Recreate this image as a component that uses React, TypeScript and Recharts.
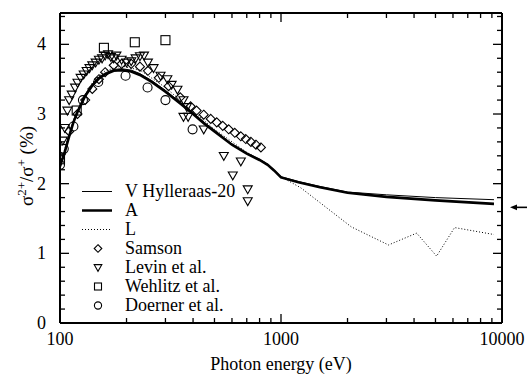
import React from 'react';
import { ComposedChart, Line, Scatter, XAxis, YAxis, Legend, ReferenceDot } from 'recharts';

// theory curves (photon energy in eV, ratio in %)
const energyA = [100, 105, 110, 115, 120, 130, 140, 150, 160, 175, 190, 210, 230, 260, 300, 350, 400, 450, 500, 600, 700, 800, 870, 930, 1000, 1200, 1500, 2000, 3000, 5000, 9200];
const valueA = [2.25, 2.45, 2.68, 2.88, 3.03, 3.26, 3.41, 3.51, 3.57, 3.62, 3.63, 3.61, 3.56, 3.46, 3.32, 3.15, 3.0, 2.86, 2.75, 2.56, 2.43, 2.34, 2.27, 2.19, 2.09, 2.02, 1.95, 1.87, 1.81, 1.76, 1.71];

const energyV = [100, 105, 110, 115, 120, 130, 140, 150, 160, 175, 190, 210, 230, 260, 300, 350, 400, 450, 500, 600, 700, 800, 870, 930, 1000, 1200, 1500, 2000, 3000, 5000, 9200];
const valueV = [2.27, 2.47, 2.7, 2.9, 3.05, 3.28, 3.43, 3.53, 3.59, 3.64, 3.65, 3.63, 3.58, 3.48, 3.34, 3.17, 3.02, 2.88, 2.77, 2.57, 2.44, 2.35, 2.28, 2.2, 2.1, 2.03, 1.96, 1.88, 1.84, 1.8, 1.77];

const energyL = [100, 110, 120, 140, 160, 190, 230, 300, 400, 500, 700, 870, 1000, 1230, 2080, 3065, 4110, 5060, 6100, 9200];
const valueL = [2.27, 2.72, 3.07, 3.45, 3.62, 3.69, 3.63, 3.38, 3.04, 2.78, 2.45, 2.28, 2.1, 1.94, 1.38, 1.12, 1.29, 0.96, 1.37, 1.27];

// experiments
const samsonE = [110, 120, 130, 140, 150, 160, 175, 190, 210, 230, 250, 280, 310, 350, 390, 415, 447, 481, 512, 545, 580, 618, 658, 693, 731, 770, 811];
const samsonY = [2.75, 3.0, 3.2, 3.36, 3.5, 3.6, 3.7, 3.72, 3.72, 3.68, 3.62, 3.52, 3.4, 3.24, 3.11, 3.05, 2.99, 2.93, 2.88, 2.83, 2.78, 2.73, 2.68, 2.64, 2.6, 2.56, 2.52];

const levinE = [101, 103, 105, 108, 110, 113, 117, 120, 124, 128, 132, 136, 140, 145, 150, 155, 160, 165, 170, 175, 180, 190, 200, 210, 220, 230, 240, 250, 265, 285, 306, 320, 340, 362, 375, 362, 380, 447, 551, 658, 605, 707, 707];
const levinY = [2.38, 2.62, 2.8, 3.05, 3.2, 3.28, 3.38, 3.45, 3.52, 3.57, 3.62, 3.66, 3.7, 3.74, 3.78, 3.8, 3.84, 3.86, 3.82, 3.8, 3.84, 3.78, 3.74, 3.76, 3.8, 3.83, 3.84, 3.74, 3.66, 3.55, 3.5, 3.42, 3.35, 3.2, 3.1, 2.96, 2.96, 2.78, 2.4, 2.32, 2.12, 1.92, 1.75];

const wehlitzE = [100, 119, 158, 218, 300];
const wehlitzY = [2.35, 3.05, 3.95, 4.03, 4.06];

const doernerE = [100, 104, 115, 127, 149, 198, 249, 300, 398];
const doernerY = [2.27, 2.5, 2.82, 3.2, 3.46, 3.55, 3.38, 3.2, 2.78];

const xTicks = [100, 200, 300, 400, 500, 600, 700, 800, 900, 1000, 2000, 3000, 4000, 5000, 6000, 7000, 8000, 9000, 10000];
const xMajor = [100, 1000, 10000];
const yTicks = [0, 0.2, 0.4, 0.6, 0.8, 1, 1.2, 1.4, 1.6, 1.8, 2, 2.2, 2.4, 2.6, 2.8, 3, 3.2, 3.4, 3.6, 3.8, 4, 4.2, 4.4];
const yMajor = [0, 1, 2, 3, 4];

const zip = (xs: number[], ys: number[]) => xs.map((x, i) => ({ x, y: ys[i] }));

const FONT = '"Liberation Serif", "Times New Roman", serif';

const Diamond = ({ cx, cy, s = 4.5 }: any) => (
  <path d={`M${cx},${cy - s}L${cx + s},${cy}L${cx},${cy + s}L${cx - s},${cy}Z`} fill="none" stroke="#000" strokeWidth={1.1} />
);
const TriDown = ({ cx, cy, s = 4.5 }: any) => (
  <path d={`M${cx - s},${cy - s * 0.75}L${cx + s},${cy - s * 0.75}L${cx},${cy + s}Z`} fill="none" stroke="#000" strokeWidth={1.1} />
);
const Square = ({ cx, cy, s = 4.5 }: any) => (
  <rect x={cx - s} y={cy - s} width={s * 2} height={s * 2} fill="none" stroke="#000" strokeWidth={1.1} />
);
const Circle = ({ cx, cy, s = 4.5 }: any) => (
  <circle cx={cx} cy={cy} r={s} fill="none" stroke="#000" strokeWidth={1.1} />
);

const BottomTick = ({ x, y, payload }: any) => {
  const major = xMajor.includes(payload.value);
  return (
    <g>
      <line x1={x} y1={y} x2={x} y2={y - (major ? 9 : 5)} stroke="#000" strokeWidth={1.3} />
      {major && (
        <text x={x} y={y + 22} textAnchor="middle" fontSize={18} fontFamily={FONT} fill="#000">{payload.value}</text>
      )}
    </g>
  );
};
const TopTick = ({ x, y, payload }: any) => {
  const major = xMajor.includes(payload.value);
  return <line x1={x} y1={y} x2={x} y2={y + (major ? 9 : 5)} stroke="#000" strokeWidth={1.3} />;
};
const LeftTick = ({ x, y, payload }: any) => {
  const major = yMajor.includes(payload.value);
  return (
    <g>
      <line x1={x} y1={y} x2={x + (major ? 9 : 5)} y2={y} stroke="#000" strokeWidth={1.3} />
      {major && (
        <text x={x - 14} y={y + 6} textAnchor="end" fontSize={18} fontFamily={FONT} fill="#000">{payload.value}</text>
      )}
    </g>
  );
};
const RightTick = ({ x, y, payload }: any) => {
  const major = yMajor.includes(payload.value);
  return <line x1={x} y1={y} x2={x - (major ? 9 : 5)} y2={y} stroke="#000" strokeWidth={1.3} />;
};

const legendRows = [
  { name: 'V Hylleraas-20', kind: 'thin' },
  { name: 'A', kind: 'thick' },
  { name: 'L', kind: 'dot' },
  { name: 'Samson', kind: 'diamond' },
  { name: 'Levin et al.', kind: 'tri' },
  { name: 'Wehlitz et al.', kind: 'square' },
  { name: 'Doerner et al.', kind: 'circle' },
];

const renderLegend = () => (
  <div style={{ fontFamily: FONT, fontSize: 18, color: '#000' }}>
    {legendRows.map((r) => (
      <div key={r.name} style={{ display: 'flex', alignItems: 'center', height: 19 }}>
        <svg width={47} height={19} style={{ display: 'block' }}>
          {r.kind === 'thin' && <line x1={4} y1={9.5} x2={34} y2={9.5} stroke="#000" strokeWidth={1} />}
          {r.kind === 'thick' && <line x1={4} y1={9.5} x2={34} y2={9.5} stroke="#000" strokeWidth={2.5} />}
          {r.kind === 'dot' && <line x1={4} y1={9.5} x2={34} y2={9.5} stroke="#000" strokeWidth={1} strokeDasharray="1 2" />}
          {r.kind === 'diamond' && <Diamond cx={20} cy={9.5} s={3.8} />}
          {r.kind === 'tri' && <TriDown cx={20} cy={9.5} s={3.8} />}
          {r.kind === 'square' && <Square cx={20} cy={9.5} s={3.5} />}
          {r.kind === 'circle' && <Circle cx={20} cy={9.5} s={3.6} />}
        </svg>
        <span style={{ lineHeight: '19px' }}>{r.name}</span>
      </div>
    ))}
  </div>
);

const Arrow = ({ cx, cy }: any) => (
  <g>
    <line x1={cx + 12} y1={cy} x2={cx + 25} y2={cy} stroke="#000" strokeWidth={1.6} />
    <path d={`M${cx + 8},${cy}L${cx + 15},${cy - 2.8}L${cx + 15},${cy + 2.8}Z`} fill="#000" />
  </g>
);

const App = () => {
  return (
    <div style={{ position: 'absolute', left: 0, top: 0, width: 527, height: 381, background: '#fff' }}>
      <ComposedChart width={527} height={381} margin={{ top: 12, right: 24, bottom: 57, left: 0 }}>
        <XAxis
          type="number" dataKey="x" scale="log" domain={[100, 10000]} ticks={xTicks} interval={0}
          tick={BottomTick} tickLine={false} tickSize={0} tickMargin={0} height={1}
          axisLine={{ stroke: '#000', strokeWidth: 2 }} allowDataOverflow
          label={{
            content: () => (
              <text x={281} y={370} textAnchor="middle" fontSize={18} fontFamily={FONT} fill="#000">Photon energy (eV)</text>
            ),
          }}
        />
        <XAxis
          xAxisId="top" orientation="top" type="number" dataKey="x" scale="log" domain={[100, 10000]} ticks={xTicks} interval={0}
          tick={TopTick} tickLine={false} tickSize={0} tickMargin={0} height={1}
          axisLine={{ stroke: '#000', strokeWidth: 2 }} allowDataOverflow
        />
        <YAxis
          type="number" dataKey="y" domain={[0, 4.45]} ticks={yTicks} interval={0}
          tick={LeftTick} tickLine={false} tickSize={0} tickMargin={0} width={60}
          axisLine={{ stroke: '#000', strokeWidth: 2 }} allowDataOverflow
          label={{
            content: () => (
              <text transform="translate(33,166) rotate(-90)" x={0} y={0} textAnchor="middle" fontSize={19} fontFamily={FONT} fill="#000">
                σ<tspan fontSize={13} dy={-7}>2+</tspan>
                <tspan dy={7}>/σ</tspan>
                <tspan fontSize={13} dy={-7}>+</tspan>
                <tspan dy={7}> (%)</tspan>
              </text>
            ),
          }}
        />
        <YAxis
          yAxisId="right" orientation="right" type="number" domain={[0, 4.45]} ticks={yTicks} interval={0}
          tick={RightTick} tickLine={false} tickSize={0} tickMargin={0} width={1}
          axisLine={{ stroke: '#000', strokeWidth: 2 }} allowDataOverflow
        />
        <Legend layout="vertical" align="center" verticalAlign="middle" content={renderLegend}
          wrapperStyle={{ position: 'absolute', left: 78, top: 182, width: 200, height: 133 }} />
        <Line data={zip(energyL, valueL)} dataKey="y" name="L" stroke="#000" strokeWidth={1} strokeDasharray="1 2" dot={false} isAnimationActive={false} legendType="none" />
        <Line data={zip(energyV, valueV)} dataKey="y" name="V Hylleraas-20" stroke="#000" strokeWidth={1} dot={false} isAnimationActive={false} />
        <Line data={zip(energyA, valueA)} dataKey="y" name="A" stroke="#000" strokeWidth={2.6} dot={false} isAnimationActive={false} />
        <Scatter data={zip(samsonE, samsonY)} name="Samson" shape={Diamond} isAnimationActive={false} />
        <Scatter data={zip(levinE, levinY)} name="Levin et al." shape={TriDown} isAnimationActive={false} />
        <Scatter data={zip(wehlitzE, wehlitzY)} name="Wehlitz et al." shape={Square} isAnimationActive={false} />
        <Scatter data={zip(doernerE, doernerY)} name="Doerner et al." shape={Circle} isAnimationActive={false} />
        <ReferenceDot x={10000} y={1.66} ifOverflow="visible" shape={Arrow} />
      </ComposedChart>
    </div>
  );
};

export default App;
